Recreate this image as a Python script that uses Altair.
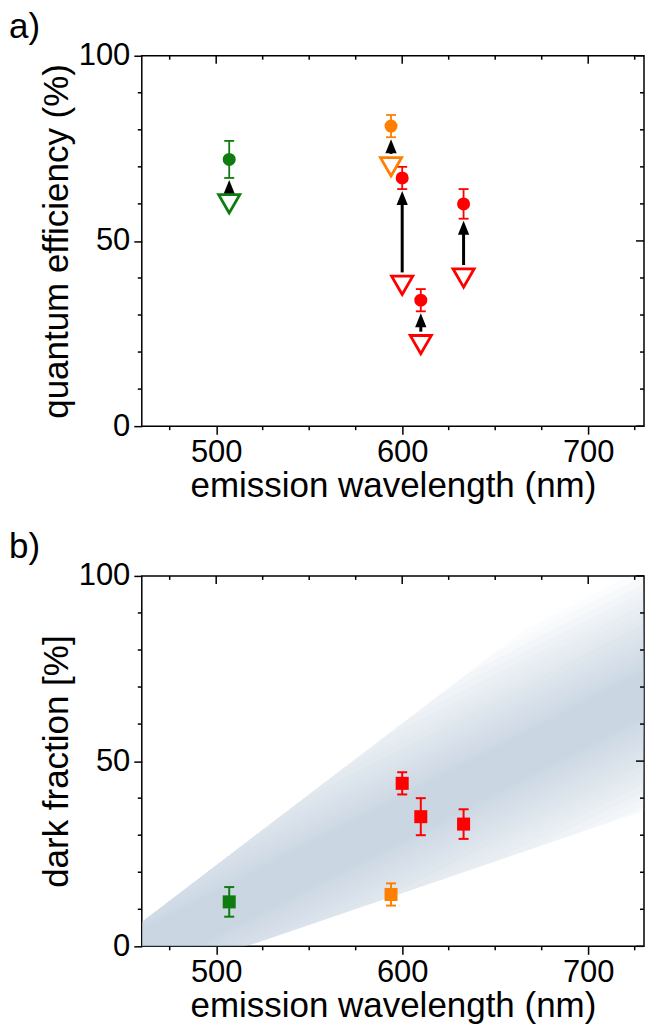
import altair as alt
import pandas as pd
import numpy as np

# ---------------- data ----------------
# panel a: quantum efficiency
qe_wl = [507, 594, 600, 610, 633]
qe_after = [72, 81, 67, 34, 60]
qe_err = [5, 3, 3, 3, 4]
qe_before = [60, 70, 38, 22, 40]
point_colors = ["#107c10", "#ff8000", "#ff0000", "#ff0000", "#ff0000"]

# panel b: dark fraction
df_wl = [507, 594, 600, 610, 633]
df_val = [12, 14, 44, 35, 33]
df_err = [4, 3, 3, 5, 4]

# model band (edges and centre line at the two x limits)
band_x = [460, 730]
band_low = [-9.6, 36.6]
band_high = [6.6, 110.0]
band_center = [-1.5, 68.0]

# axis ticks
x_major = [500, 600, 700]
x_minor = [475, 525, 550, 575, 625, 650, 675, 725]
y_major = [0, 50, 100]
y_minor = [10, 20, 30, 40, 60, 70, 80, 90]

W, H = 503, 371
FONT = "Liberation Sans"
XT = "emission wavelength (nm)"

# ---------------- tables ----------------
qa = pd.DataFrame({"wl": qe_wl, "after": qe_after, "err": qe_err,
                   "before": qe_before, "c": point_colors})
qa["lo"] = qa["after"] - qa["err"]
qa["hi"] = qa["after"] + qa["err"]

qb = pd.DataFrame({"wl": df_wl, "v": df_val, "err": df_err, "c": point_colors})
qb["lo"] = qb["v"] - qb["err"]
qb["hi"] = qb["v"] + qb["err"]


def lin(vals, x):
    return vals[0] + (vals[1] - vals[0]) * (x - band_x[0]) / (band_x[1] - band_x[0])


rows = []
K = 20
for k in range(K):
    d = 6 + 28 * (k / (K - 1)) ** 1.4
    xs = {band_x[0], band_x[1]}
    for edge, sign in ((band_high, 1), (band_low, -1)):
        c0, c1 = band_center
        e0, e1 = edge
        sd = (c1 - c0) - (e1 - e0)
        if sd != 0:
            t = (e0 - c0 - sign * d) / sd
            if 0 < t < 1:
                xs.add(band_x[0] + t * (band_x[1] - band_x[0]))
    for x in sorted(xs):
        c = lin(band_center, x)
        rows.append({"layer": k, "x": x,
                     "lo": max(c - d, lin(band_low, x)),
                     "hi": min(c + d, lin(band_high, x))})
band = pd.DataFrame(rows)

xscale = alt.Scale(domain=[460, 730], nice=False, zero=False)
yscale = alt.Scale(domain=[0, 100], nice=False, zero=False)

axis_common = dict(tickSize=8, tickWidth=1.5, tickColor="black", domain=False,
                   grid=False, labelFontSize=31, titleFontSize=35,
                   labelFont=FONT, titleFont=FONT, labelColor="black",
                   titleColor="black", titleFontWeight="normal")
xaxis = alt.Axis(values=x_major, labelPadding=3, titlePadding=1, **axis_common)


def yaxis():
    return alt.Axis(values=y_major, labelPadding=4, titlePadding=4, **axis_common)


def X(f, t=XT):
    return alt.X(f, type="quantitative", scale=xscale, axis=xaxis, title=t)


def Y(f, t):
    return alt.Y(f, type="quantitative", scale=yscale, axis=yaxis(), title=t, stack=None)


def tick_layers(ytitle):
    xmaj = pd.DataFrame({"v": x_major})
    xmin = pd.DataFrame({"v": x_minor})
    ymaj = pd.DataFrame({"v": y_major})
    ymin = pd.DataFrame({"v": y_minor})
    r = dict(color="black", strokeWidth=1.5)
    L = []
    L.append(alt.Chart(xmin).mark_rule(**r).encode(x=X("v"), y=alt.value(H), y2=alt.value(H + 4)))
    L.append(alt.Chart(xmin).mark_rule(**r).encode(x=X("v"), y=alt.value(0), y2=alt.value(4)))
    L.append(alt.Chart(xmaj).mark_rule(**r).encode(x=X("v"), y=alt.value(0), y2=alt.value(8)))
    L.append(alt.Chart(ymin).mark_rule(**r).encode(y=Y("v", ytitle), x=alt.value(-4), x2=alt.value(0)))
    L.append(alt.Chart(ymin).mark_rule(**r).encode(y=Y("v", ytitle), x=alt.value(W - 4), x2=alt.value(W)))
    L.append(alt.Chart(ymaj).mark_rule(**r).encode(y=Y("v", ytitle), x=alt.value(W - 8), x2=alt.value(W)))
    return L


def panel_label(t):
    return alt.Chart(pd.DataFrame({"t": [t]})).mark_text(
        align="left", baseline="top", fontSize=35, font=FONT, color="black"
    ).encode(text="t:N", x=alt.value(-133), y=alt.value(-46))


# ---------------- panel a ----------------
YA = "quantum efficiency (%)"
base_a = alt.Chart(qa)
shaft = base_a.mark_rule(color="black", strokeWidth=3, yOffset=-13, y2Offset=10).encode(
    x=X("wl"), y=Y("before", YA), y2="lo")
head = base_a.mark_point(shape="M-0.8,1L0.8,1L0,-1Z", filled=True, size=200,
                         color="black", opacity=1, yOffset=9).encode(
    x=X("wl"), y=Y("lo", YA))
err_a = base_a.mark_rule(strokeWidth=1.8).encode(
    x=X("wl"), y=Y("lo", YA), y2="hi", color=alt.Color("c:N", scale=None))
cap_a_lo = base_a.mark_tick(orient="horizontal", size=10, thickness=1.8, opacity=1).encode(
    x=X("wl"), y=Y("lo", YA), color=alt.Color("c:N", scale=None))
cap_a_hi = base_a.mark_tick(orient="horizontal", size=10, thickness=1.8, opacity=1).encode(
    x=X("wl"), y=Y("hi", YA), color=alt.Color("c:N", scale=None))
circ = base_a.mark_circle(size=170, opacity=1).encode(
    x=X("wl"), y=Y("after", YA), color=alt.Color("c:N", scale=None))
tri = base_a.mark_point(shape="triangle-down", size=450, strokeWidth=2.8, filled=False,
                        opacity=1).encode(
    x=X("wl"), y=Y("before", YA), color=alt.Color("c:N", scale=None))

panel_a = alt.layer(
    *tick_layers(YA), shaft, head, err_a, cap_a_lo, cap_a_hi, circ, tri, panel_label("a)")
).properties(width=W, height=H)

# ---------------- panel b ----------------
YB = "dark fraction [%]"
band_layer = alt.Chart(band).mark_area(clip=True, fill="#bcc8dc", fillOpacity=0.06,
                                       strokeWidth=0).encode(
    x=X("x"), y=Y("lo", YB), y2="hi", detail="layer:N")
base_b = alt.Chart(qb)
err_b = base_b.mark_rule(strokeWidth=2).encode(
    x=X("wl"), y=Y("lo", YB), y2="hi", color=alt.Color("c:N", scale=None))
cap_b_lo = base_b.mark_tick(orient="horizontal", size=10, thickness=2, opacity=1).encode(
    x=X("wl"), y=Y("lo", YB), color=alt.Color("c:N", scale=None))
cap_b_hi = base_b.mark_tick(orient="horizontal", size=10, thickness=2, opacity=1).encode(
    x=X("wl"), y=Y("hi", YB), color=alt.Color("c:N", scale=None))
sq = base_b.mark_square(size=170, opacity=1).encode(
    x=X("wl"), y=Y("v", YB), color=alt.Color("c:N", scale=None))

panel_b = alt.layer(
    band_layer, *tick_layers(YB), err_b, cap_b_lo, cap_b_hi, sq, panel_label("b)")
).properties(width=W, height=H)

chart = alt.vconcat(panel_a, panel_b, spacing=25).properties(
    padding=0, background="white"
).configure_view(stroke="black", strokeWidth=1.5)

chart.save("out.html", embed_options={"renderer": "svg", "actions": False})
